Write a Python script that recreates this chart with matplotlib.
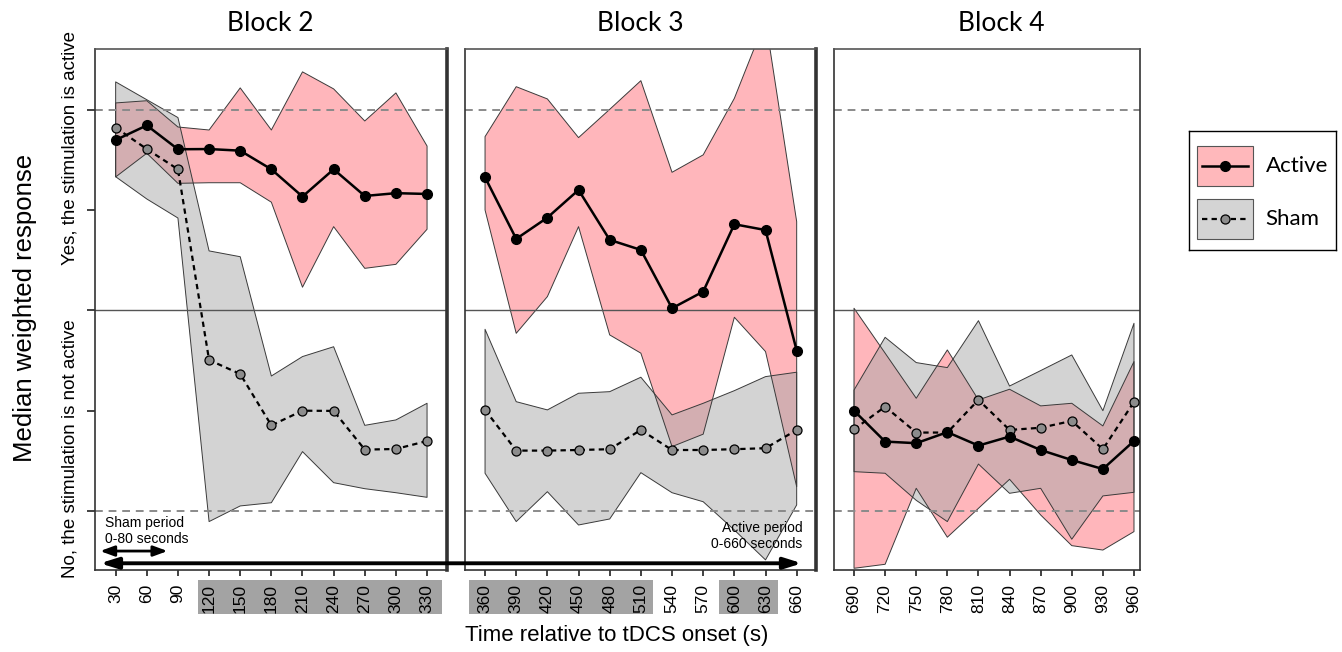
import matplotlib
matplotlib.use('Agg')
import matplotlib.pyplot as plt
from matplotlib.patches import Rectangle, ConnectionPatch
import matplotlib.transforms as mtransforms

plt.rcParams['font.family'] = ['Liberation Sans', 'DejaVu Sans']

# ---------------- data ----------------
time_b2 = [30, 60, 90, 120, 150, 180, 210, 240, 270, 300, 330]
active_med_b2 = [0.850, 0.923, 0.804, 0.805, 0.797, 0.704, 0.568, 0.704, 0.571, 0.585, 0.581]
active_hi_b2 = [1.035, 1.046, 0.915, 0.900, 1.110, 0.900, 1.190, 1.105, 0.945, 1.085, 0.820]
active_lo_b2 = [0.666, 0.784, 0.634, 0.637, 0.637, 0.540, 0.116, 0.418, 0.210, 0.230, 0.405]
sham_med_b2 = [0.912, 0.805, 0.704, -0.247, -0.317, -0.573, -0.500, -0.501, -0.694, -0.691, -0.651]
sham_hi_b2 = [1.140, 1.051, 0.962, 0.297, 0.268, -0.327, -0.230, -0.181, -0.573, -0.546, -0.463]
sham_lo_b2 = [0.667, 0.556, 0.461, -1.053, -0.975, -0.959, -0.704, -0.859, -0.889, -0.909, -0.932]

time_b3 = [360, 390, 420, 450, 480, 510, 540, 570, 600, 630, 660]
active_med_b3 = [0.664, 0.357, 0.463, 0.601, 0.352, 0.302, 0.011, 0.094, 0.430, 0.401, -0.200]
active_hi_b3 = [0.867, 1.116, 1.055, 0.862, 1.003, 1.146, 0.689, 0.776, 1.058, 1.449, 0.443]
active_lo_b3 = [0.501, -0.114, 0.069, 0.418, -0.122, -0.213, -0.679, -0.617, -0.034, -0.205, -0.879]
sham_med_b3 = [-0.496, -0.699, -0.699, -0.696, -0.692, -0.596, -0.696, -0.696, -0.692, -0.687, -0.596]
sham_hi_b3 = [-0.094, -0.455, -0.496, -0.413, -0.405, -0.333, -0.521, -0.463, -0.400, -0.330, -0.308]
sham_lo_b3 = [-0.812, -1.053, -0.904, -1.070, -1.040, -0.809, -0.909, -0.954, -1.095, -1.244, -0.970]

time_b4 = [690, 720, 750, 780, 810, 840, 870, 900, 930, 960]
active_med_b4 = [-0.500, -0.654, -0.662, -0.607, -0.674, -0.629, -0.696, -0.746, -0.791, -0.651]
active_hi_b4 = [0.011, -0.213, -0.438, -0.197, -0.446, -0.393, -0.476, -0.463, -0.576, -0.255]
active_lo_b4 = [-1.286, -1.266, -0.887, -1.131, -0.987, -0.842, -1.020, -1.173, -1.195, -1.103]
sham_med_b4 = [-0.593, -0.480, -0.609, -0.609, -0.446, -0.596, -0.585, -0.551, -0.692, -0.456]
sham_hi_b4 = [-0.397, -0.134, -0.260, -0.285, -0.051, -0.377, -0.300, -0.222, -0.500, -0.064]
sham_lo_b4 = [-0.804, -0.812, -0.947, -1.053, -0.766, -0.912, -0.887, -1.141, -0.925, -0.907]

block_titles = ['Block 2', 'Block 3', 'Block 4']
highlight_groups = [[[120, 150, 180, 210, 240, 270, 300, 330]],
                    [[360, 390, 420, 450, 480, 510], [600, 630]],
                    []]
sham_period = [15, 80]
active_period = [15, 665]
legend_labels = ['Active', 'Sham']

# ---------------- style ----------------
PINK = '#ff6f78'
GRAY = '#a8a8a8'
EDGE = '#3a3a3a'
W, H = 1342, 652
YLIM = (-1.292, 1.304)

fig = plt.figure(figsize=(W / 100, H / 100), dpi=100)
fig.patch.set_facecolor('white')


def fpos(l, r, t, b):
    return [l / W, 1 - b / H, (r - l) / W, (b - t) / H]


ax2 = fig.add_axes(fpos(95, 447.5, 49, 569.5))
ax3 = fig.add_axes(fpos(465, 816, 49, 569.5))
ax4 = fig.add_axes(fpos(834, 1140, 49, 569.5))
axes = [ax2, ax3, ax4]
xlims = [(10.1, 349.7), (340.7, 678.6), (670.7, 965.8)]
title_x = [0.497, 0.5, 0.546]
hl_pad = [(11, 14), (15, 12), (15, 12)]

data = [
    (time_b2, active_med_b2, active_lo_b2, active_hi_b2, sham_med_b2, sham_lo_b2, sham_hi_b2),
    (time_b3, active_med_b3, active_lo_b3, active_hi_b3, sham_med_b3, sham_lo_b3, sham_hi_b3),
    (time_b4, active_med_b4, active_lo_b4, active_hi_b4, sham_med_b4, sham_lo_b4, sham_hi_b4),
]

ACTIVE_STYLE = dict(color='black', lw=1.8, marker='o', ms=7, mfc='black', mec='black')
SHAM_STYLE = dict(color='black', lw=1.6, dashes=(2.4, 1.9), marker='o', ms=6.5,
                  mfc='#8c8c8c', mec='black', mew=0.9)

for i, ax in enumerate(axes):
    t, am, alo, ahi, sm, slo, shi = data[i]
    ax.set_xlim(*xlims[i])
    ax.set_ylim(*YLIM)
    ax.fill_between(t, alo, ahi, facecolor=PINK, alpha=0.5, edgecolor='none', zorder=1)
    ax.fill_between(t, slo, shi, facecolor=GRAY, alpha=0.5, edgecolor='none', zorder=1.1)
    ax.fill_between(t, slo, shi, facecolor='none', edgecolor=EDGE, linewidth=0.7, zorder=1.2)
    ax.fill_between(t, alo, ahi, facecolor='none', edgecolor=EDGE, linewidth=0.7, zorder=1.2)
    ax.axhline(0, color='#555555', lw=1.0, zorder=2)
    for yv in (1, -1):
        ax.axhline(yv, color='#8a8a8a', lw=1.4, dashes=(4, 3), zorder=2)
    ax.plot(t, sm, zorder=3, **SHAM_STYLE)
    ax.plot(t, am, zorder=4, **ACTIVE_STYLE)

    ax.set_xticks(t)
    ax.set_xticklabels([str(v) for v in t], rotation=90, fontsize=12.5)
    ax.tick_params(axis='x', direction='out', length=4.5, width=1.3, color='#333333', pad=6)
    if i == 0:
        ax.set_yticks([-1, -0.5, 0, 0.5, 1])
        ax.set_yticklabels([])
        ax.tick_params(axis='y', direction='out', length=6, width=1.3, color='#333333')
    else:
        ax.set_yticks([])
    for s in ax.spines.values():
        s.set_color('#333333')
        s.set_linewidth(1.2)
    ax.spines['top'].set_color('#555555')
    if i < 2:
        ax.spines['right'].set_linewidth(2.6)

    ax.text(title_x[i], 1.025, block_titles[i], transform=ax.transAxes, ha='center', va='bottom',
            fontsize=19, family=['Lato', 'DejaVu Sans'])

    trans = mtransforms.blended_transform_factory(ax.transData, ax.transAxes)
    for grp in highlight_groups[i]:
        x0 = min(grp) - hl_pad[i][0]
        x1 = max(grp) + hl_pad[i][1]
        r = Rectangle((x0, -0.0861), x1 - x0, 0.0659, transform=trans, facecolor='#a3a3a3',
                      edgecolor='none', clip_on=False, zorder=0.5)
        ax.add_patch(r)

# annotations
ax2.text(19.7, -1.025, 'Sham period\n0-80 seconds', ha='left', va='top', fontsize=10, linespacing=1.15)
ax2.annotate('', xy=(sham_period[0], -1.2), xytext=(sham_period[1], -1.2),
             arrowprops=dict(arrowstyle='<|-|>,head_length=0.6,head_width=0.22', lw=2.0,
                             color='black', shrinkA=0, shrinkB=0, mutation_scale=14))
ax3.text(665.8, -1.05, 'Active period\n0-660 seconds', ha='right', va='top', fontsize=10,
         linespacing=1.15, zorder=5)
cp = ConnectionPatch(xyA=(active_period[0], -1.261), coordsA=ax2.transData,
                     xyB=(active_period[1], -1.261), coordsB=ax3.transData,
                     arrowstyle='<|-|>,head_length=0.7,head_width=0.22', mutation_scale=15,
                     lw=2.8, color='black', zorder=10)
fig.add_artist(cp)

# axis labels
fig.text(25 / W, 1 - 308 / H, 'Median weighted response', rotation=90, ha='center', va='center',
         fontsize=18.5)
fig.text(70 / W, 1 - 148 / H, 'Yes, the stimulation is active', rotation=90, ha='center',
         va='center', fontsize=13.5)
fig.text(70 / W, 1 - 449 / H, 'No, the stimulation is not active', rotation=90, ha='center',
         va='center', fontsize=13.5)
fig.text(617 / W, 1 - 635 / H, 'Time relative to tDCS onset (s)', ha='center', va='center',
         fontsize=16)

# legend (drawn as a small box of its own, in pixel units)
lg = fig.add_axes(fpos(1189, 1336, 131, 250))
lg.set_xlim(0, 147)
lg.set_ylim(119, 0)
lg.set_xticks([])
lg.set_yticks([])
for s in lg.spines.values():
    s.set_color('black')
    s.set_linewidth(1.0)
pink_blend = (1.0, 0.72, 0.735)
gray_blend = (0.83, 0.83, 0.83)
rows = [(14.7, pink_blend, ACTIVE_STYLE), (67.5, gray_blend, SHAM_STYLE)]
for (top, fc, style), label in zip(rows, legend_labels):
    lg.add_patch(Rectangle((7.7, top), 56, 40.5, facecolor=fc, edgecolor='#555555', lw=0.8))
    cy = top + 20.25
    st = dict(style)
    st.pop('marker')
    lg.plot([12.7, 59.3], [cy, cy], **{k: v for k, v in st.items() if k not in ('ms', 'mfc', 'mec', 'mew')})
    lg.plot([36], [cy], linestyle='none', marker='o', ms=style['ms'], mfc=style['mfc'],
            mec=style['mec'], mew=style.get('mew', 1.0))
    lg.text(76.7, cy, label, ha='left', va='center', fontsize=16, family=['Lato', 'DejaVu Sans'])

fig.savefig('out.png', dpi=100, facecolor='white')
